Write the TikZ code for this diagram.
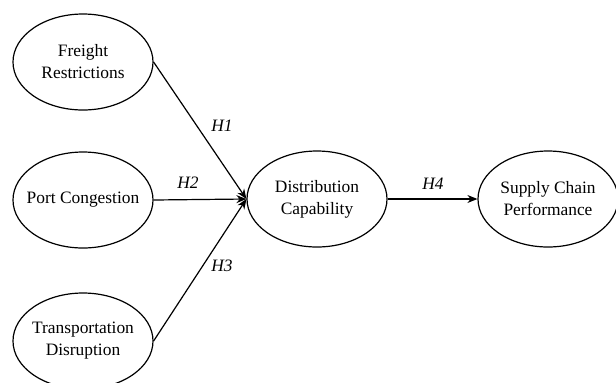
\documentclass[tikz,border=0pt]{standalone}
\usepackage{fontspec}
\setmainfont{Liberation Serif}
\usetikzlibrary{shapes.geometric,arrows.meta}
\tikzset{
  construct/.style={draw,ellipse,line width=0.6pt,minimum width=70pt,minimum height=48pt,inner xsep=-8pt,inner ysep=0pt,align=center,font=\fontsize{8.7}{11}\selectfont},
  path/.style={line width=0.6pt,-{Stealth[length=5pt,width=4pt]}},
  hyp/.style={font=\fontsize{8.7}{11}\selectfont\itshape}
}
\begin{document}
\begin{tikzpicture}[x=0.5pt,y=-0.5pt]
          	\useasboundingbox (0,0) rectangle (616,382);
          	\node[construct] (fr) at (83,62) {Freight\\Restrictions};
          	\node[construct] (pc) at (83,200) {Port Congestion};
          	\node[construct] (td) at (83,341) {Transportation\\Disruption};
          	\node[construct] (dc) at (317,199) {Distribution\\Capability};
          	\node[construct] (scp) at (548,199) {Supply Chain\\Performance};
          	\draw [path] (fr.east) to (dc.west);
          	\draw [path] (pc.east) to (dc.west);
          	\draw [path] (td.east) to (dc.west);
          	\draw [path] (dc.east) to (scp.west);
          	\node[hyp] (h1) at (222,126) {H1};
          	\node[hyp] (h2) at (188,183) {H2};
          	\node[hyp] (h3) at (222,266) {H3};
          	\node[hyp] (h4) at (433,184) {H4};
          	\end{tikzpicture}
\end{document}
